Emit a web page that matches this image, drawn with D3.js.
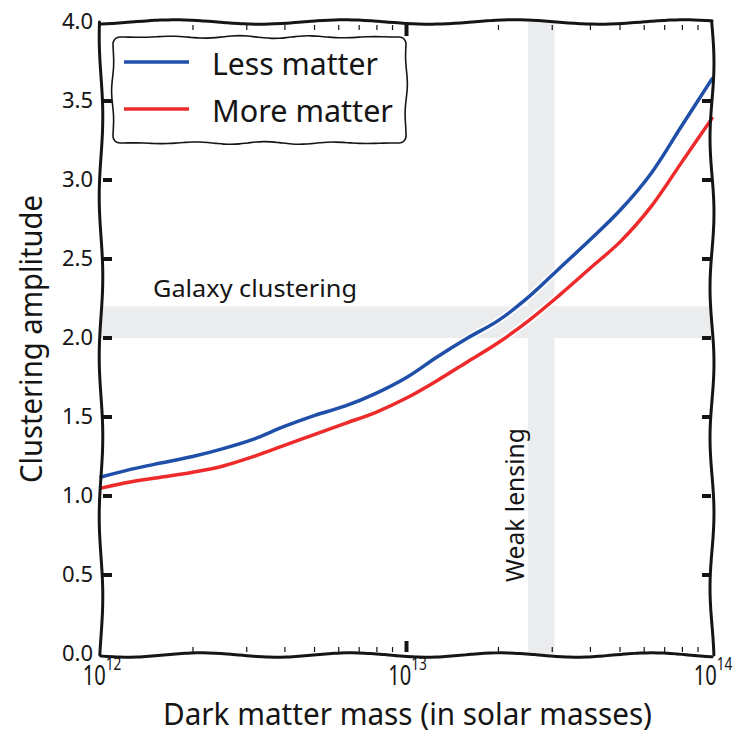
<!DOCTYPE html>
<html>
<head>
<meta charset="utf-8">
<script src="https://cdn.jsdelivr.net/npm/d3@7"></script>
<style>
  body { margin: 0; background: #fff; }
  text { font-family: "Noto Sans", "DejaVu Sans", sans-serif; fill: #151515; }
</style>
</head>
<body>
<svg id="chart" width="747" height="733"></svg>
<script>
// log10 of dark matter mass, and clustering amplitude for each series
const logMass = [12.0, 12.1, 12.2, 12.3, 12.4, 12.5, 12.6, 12.7, 12.8, 12.9, 13.0,
                 13.1, 13.2, 13.3, 13.4, 13.5, 13.6, 13.7, 13.8, 13.9, 14.0];
const lessMatter = [1.12, 1.17, 1.21, 1.25, 1.30, 1.36, 1.44, 1.51, 1.57, 1.65, 1.75,
                    1.88, 2.00, 2.11, 2.26, 2.44, 2.62, 2.81, 3.04, 3.34, 3.64];
const moreMatter = [1.05, 1.09, 1.12, 1.15, 1.19, 1.25, 1.32, 1.39, 1.46, 1.53, 1.62,
                    1.73, 1.85, 1.97, 2.11, 2.27, 2.44, 2.61, 2.83, 3.11, 3.39];
const seriesNames = ["Less matter", "More matter"];
const seriesColors = ["#1f4fa8", "#ee2a2a"];
const yTicks = [0, 0.5, 1, 1.5, 2, 2.5, 3, 3.5, 4];
const xMajor = [1e12, 1e13, 1e14];
const galaxyBand = [2.0, 2.2];
const lensingBand = [2.5e13, 3.05e13];

const svg = d3.select("#chart");
const W = 747, H = 733;
const margin = {left: 101, right: 35, top: 22, bottom: 79};

const x = d3.scaleLog().domain([1e12, 1e14]).range([margin.left, W - margin.right]);
const y = d3.scaleLinear().domain([0, 4]).range([H - margin.bottom, margin.top]);

// hand drawn looking segment: small sine wobble across the line
const wobble = (x0, y0, x1, y1, amp = 2, wave = 140, phase = 0) => {
  const len = Math.hypot(x1 - x0, y1 - y0);
  const n = Math.max(2, Math.round(len / 6));
  const nx = -(y1 - y0) / len, ny = (x1 - x0) / len;
  const pts = d3.range(n + 1).map(i => {
    const t = i / n;
    const off = amp * Math.sin(t * len / wave * 2 * Math.PI + phase);
    return [x0 + (x1 - x0) * t + nx * off, y0 + (y1 - y0) * t + ny * off];
  });
  return d3.line().curve(d3.curveBasis)(pts);
};

// rounded box with wobbly sides, as one closed path
const wobblyBox = (x0, y0, x1, y1, r, amp) => {
  const pts = [];
  const side = (ax, ay, bx, by, ph) => {
    const len = Math.hypot(bx - ax, by - ay);
    const nx = -(by - ay) / len, ny = (bx - ax) / len;
    const n = Math.round(len / 8);
    for (let i = 0; i <= n; i++) {
      const t = i / n;
      const off = amp * Math.sin(Math.PI * t) * Math.sin(t * len / 70 * 2 * Math.PI + ph);
      pts.push([ax + (bx - ax) * t + nx * off, ay + (by - ay) * t + ny * off]);
    }
  };
  const corner = (cx, cy, a0) => {
    for (let k = 1; k < 4; k++) {
      const a = a0 + k * Math.PI / 8;
      pts.push([cx + r * Math.cos(a), cy + r * Math.sin(a)]);
    }
  };
  side(x0 + r, y0, x1 - r, y0, 0.3);
  corner(x1 - r, y0 + r, -Math.PI / 2);
  side(x1, y0 + r, x1, y1 - r, 1.2);
  corner(x1 - r, y1 - r, 0);
  side(x1 - r, y1, x0 + r, y1, 2.1);
  corner(x0 + r, y1 - r, Math.PI / 2);
  side(x0, y1 - r, x0, y0 + r, 0.7);
  corner(x0 + r, y0 + r, Math.PI);
  return d3.line().curve(d3.curveCardinalClosed)(pts);
};

const [xl, xr] = x.range();
const [yb, yt] = y.range();

// shaded bands
svg.append("rect")
  .attr("x", xl).attr("width", xr - xl)
  .attr("y", y(galaxyBand[1])).attr("height", y(galaxyBand[0]) - y(galaxyBand[1]))
  .attr("fill", "#ebecee");
svg.append("rect")
  .attr("x", x(lensingBand[0])).attr("width", x(lensingBand[1]) - x(lensingBand[0]))
  .attr("y", yt).attr("height", yb - yt)
  .attr("fill", "#ebecee");

// band labels
svg.append("text")
  .attr("x", 153).attr("y", 297)
  .attr("font-size", 24)
  .attr("textLength", 204).attr("lengthAdjust", "spacingAndGlyphs")
  .text("Galaxy clustering");
svg.append("text")
  .attr("transform", `translate(524,582) rotate(-90)`)
  .attr("font-size", 25)
  .attr("textLength", 154).attr("lengthAdjust", "spacingAndGlyphs")
  .text("Weak lensing");

// curves
const line = d3.line()
  .x((d, i) => x(Math.pow(10, logMass[i])))
  .y(d => y(d))
  .curve(d3.curveCatmullRom);

[lessMatter, moreMatter].forEach((s, k) => {
  svg.append("path").attr("d", line(s))
    .attr("fill", "none").attr("stroke", "#fff").attr("stroke-width", 7);
  svg.append("path").attr("d", line(s))
    .attr("fill", "none").attr("stroke", seriesColors[k]).attr("stroke-width", 3.5)
    .attr("stroke-linecap", "round");
});

// ticks
const tickG = svg.append("g").attr("fill", "#151515");
yTicks.forEach(v => {
  if (v === 0 || v === 4) return;
  tickG.append("rect").attr("x", xl + 2).attr("y", y(v) - 2).attr("width", 9).attr("height", 4);
  tickG.append("rect").attr("x", xr - 10).attr("y", y(v) - 2).attr("width", 9).attr("height", 4);
});
x.ticks().forEach(v => {
  const major = xMajor.includes(v);
  if (v === 1e12 || v === 1e14) return;
  const w = major ? 4 : 1.2, h = major ? 11 : 5;
  tickG.append("rect").attr("x", x(v) - w / 2).attr("y", yb - h - 2).attr("width", w).attr("height", h);
  tickG.append("rect").attr("x", x(v) - w / 2).attr("y", yt + 3).attr("width", w).attr("height", h);
});

// spines
const spine = svg.append("g").attr("fill", "none").attr("stroke", "#151515")
  .attr("stroke-width", 3).attr("stroke-linecap", "round");
spine.append("path").attr("d", wobble(xl, yb + 1, xr, yb + 1, 2.2, 150, 0.5));
spine.append("path").attr("d", wobble(xl, yt, xr, yt, 2.2, 170, 2));
spine.append("path").attr("d", wobble(xl, yt, xl, yb + 1, 1.8, 160, 1));
spine.append("path").attr("d", wobble(xr, yt, xr, yb + 1, 2, 150, 3));

// tick labels
svg.append("g").selectAll("text").data(yTicks).join("text")
  .attr("x", xl - 8).attr("y", d => y(d) + 7)
  .attr("text-anchor", "end").attr("font-size", 22)
  .text(d => d.toFixed(1));

// 10^n labels, narrowed to look like the hand drawn font
const xt = svg.append("g").selectAll("text").data(xMajor).join("text")
  .attr("transform", d => `translate(${x(d) + 1},${yb + 31}) scale(0.72,1)`)
  .attr("text-anchor", "middle").attr("font-size", 28);
xt.append("tspan").text("10");
xt.append("tspan").attr("dy", -15).attr("font-size", 19)
  .text(d => Math.round(Math.log10(d)));

// axis labels
svg.append("text")
  .attr("x", 163).attr("y", 725)
  .attr("font-size", 30)
  .attr("textLength", 489).attr("lengthAdjust", "spacingAndGlyphs")
  .text("Dark matter mass (in solar masses)");
svg.append("text")
  .attr("transform", `translate(42,483) rotate(-90)`)
  .attr("font-size", 30)
  .attr("textLength", 288).attr("lengthAdjust", "spacingAndGlyphs")
  .text("Clustering amplitude");

// legend
const lg = svg.append("g");
lg.append("path")
  .attr("d", wobblyBox(113, 37, 406, 143, 7, 1.4))
  .attr("fill", "#fff").attr("stroke", "#151515").attr("stroke-width", 1.6);
seriesNames.forEach((name, i) => {
  const yy = 62 + i * 47;
  lg.append("line").attr("x1", 124).attr("x2", 189).attr("y1", yy).attr("y2", yy)
    .attr("stroke", seriesColors[i]).attr("stroke-width", 3.5);
  lg.append("text").attr("x", 212).attr("y", yy + 13).attr("font-size", 31)
    .attr("textLength", i === 0 ? 166 : 181).attr("lengthAdjust", "spacingAndGlyphs")
    .text(name);
});
</script>
</body>
</html>
